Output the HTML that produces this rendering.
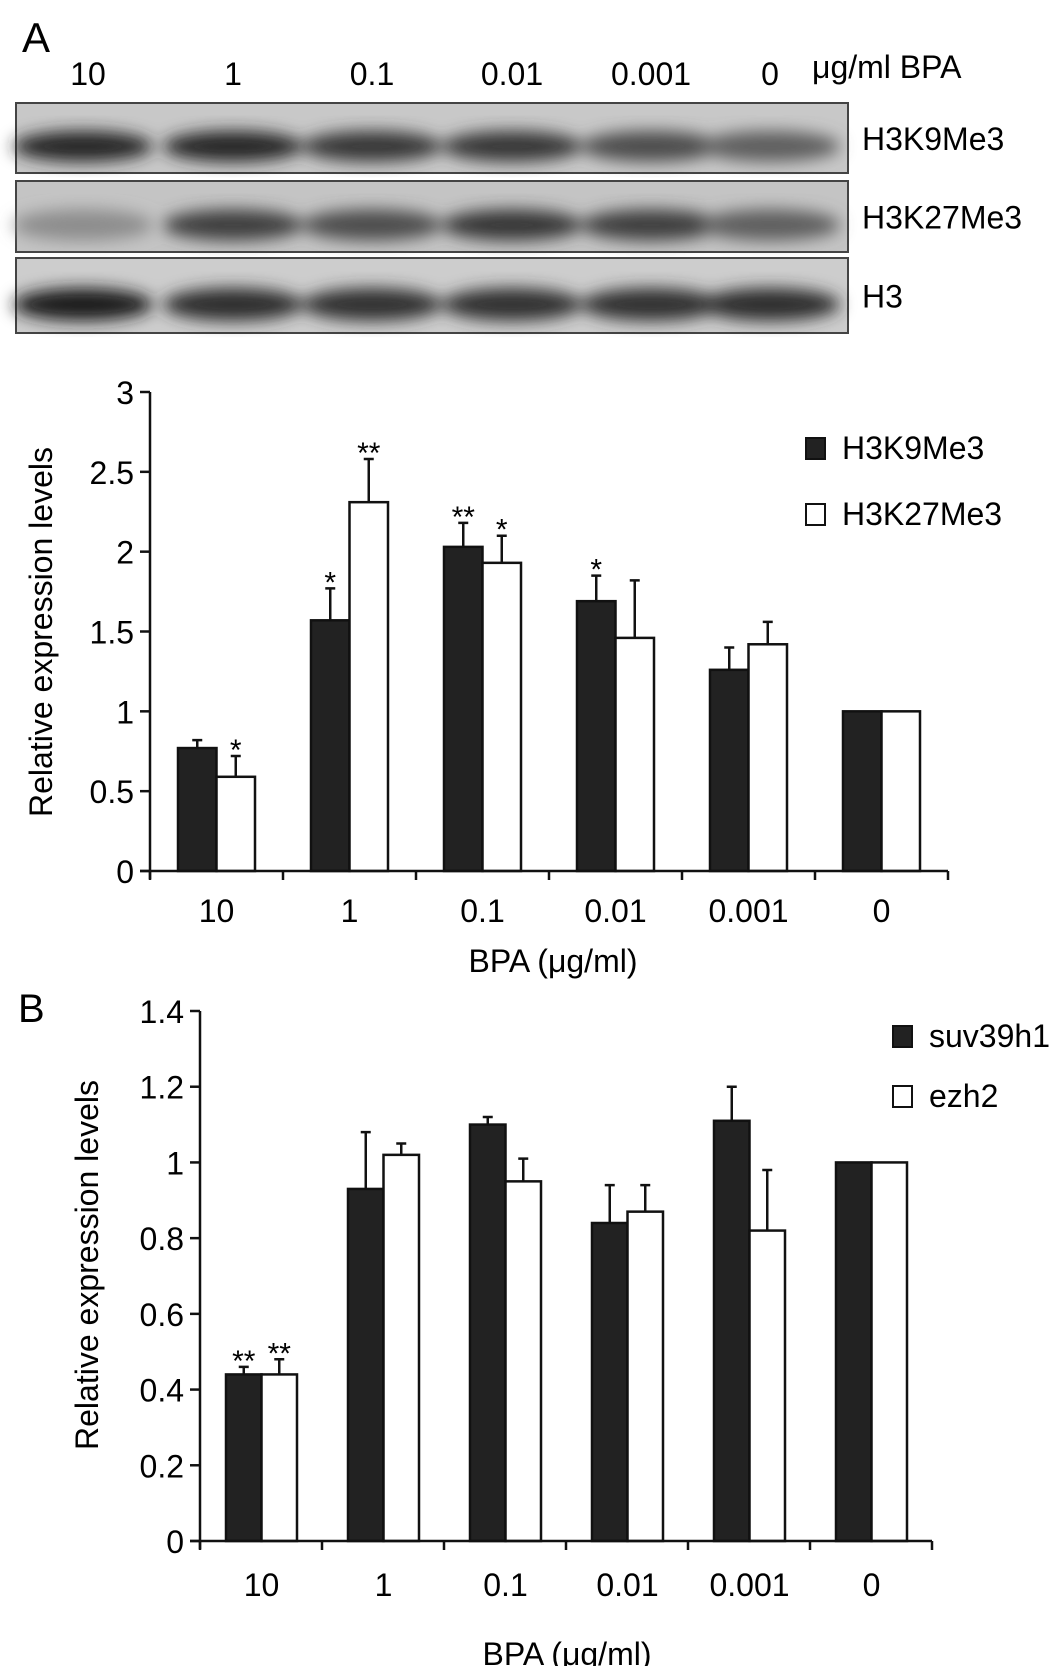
<!DOCTYPE html>
<html><head><meta charset="utf-8"><style>
body{margin:0;background:#fff;}
svg{display:block;font-family:"Liberation Sans",Arial,sans-serif;}
</style></head><body>
<svg id="fig" width="1063" height="1666" viewBox="0 0 1063 1666">
<defs><filter id="blur" x="-20%" y="-50%" width="140%" height="200%"><feGaussianBlur stdDeviation="8"/></filter></defs>
<g id="blot"></g>
<g id="chartA"></g>
<g id="chartB"></g>
</svg>
<script>
const NS='http://www.w3.org/2000/svg';
const categories=['10','1','0.1','0.01','0.001','0'];
const aTicks=['0','0.5','1','1.5','2','2.5','3'];
const aTickVals=[0,0.5,1,1.5,2,2.5,3];
const aSeries1=[0.77,1.57,2.03,1.69,1.26,1.0];
const aErr1=[0.05,0.2,0.15,0.16,0.14,0];
const aSeries2=[0.59,2.31,1.93,1.46,1.42,1.0];
const aErr2=[0.13,0.27,0.17,0.36,0.14,0];
const aStars1=['','*','**','*','',''];
const aStars2=['*','**','*','','',''];
const bTicks=['0','0.2','0.4','0.6','0.8','1','1.2','1.4'];
const bTickVals=[0,0.2,0.4,0.6,0.8,1,1.2,1.4];
const bSeries1=[0.44,0.93,1.10,0.84,1.11,1.0];
const bErr1=[0.02,0.15,0.02,0.1,0.09,0];
const bSeries2=[0.44,1.02,0.95,0.87,0.82,1.0];
const bErr2=[0.04,0.03,0.06,0.07,0.16,0];
const bStars1=['**','','','','',''];
const bStars2=['**','','','','',''];
const blotDark1=[0.95,0.95,0.85,0.85,0.72,0.62];
const blotDark2=[0.35,0.8,0.72,0.85,0.8,0.62];
const blotDark3=[1.0,0.9,0.88,0.88,0.88,0.9];

function el(tag,attrs,parent,text){const e=document.createElementNS(NS,tag);for(const k in attrs)e.setAttribute(k,attrs[k]);if(text!==undefined)e.textContent=text;parent.appendChild(e);return e;}

const blot=document.getElementById('blot');
let t=el('text',{x:22,y:52,'font-size':42},blot,'A');


const laneX=[88,233,372,512,651,770];
categories.forEach((c,i)=>{
  const l=el('text',{x:laneX[i],y:85,'font-size':32,'text-anchor':'middle'},blot,c);
  
  
});
t=el('text',{x:812,y:78,'font-size':32},blot,'μg/ml BPA');


const rows=[{y:103,h:70,name:'H3K9Me3',d:blotDark1,bg:'#c8c8c8'},{y:181,h:71,name:'H3K27Me3',d:blotDark2,bg:'#c4c4c4'},{y:258,h:75,name:'H3',d:blotDark3,bg:'#cdcdcd'}];
rows.forEach(r=>{
  const g=el('g',{},blot);
  
  
  el('rect',{x:16,y:r.y,width:832,height:r.h,fill:r.bg,stroke:'#444','stroke-width':2},g);
  const bg=el('g',{filter:'url(#blur)'},g);
  r.d.forEach((v,i)=>{
    const lum=Math.round(200-170*v);
    el('ellipse',{cx:laneX[i]+(i==0?-5:0),cy:r.y+r.h*0.62,rx:70,ry:r.h*0.22,fill:`rgb(${lum},${lum},${lum})`},bg);
  });
  const lab=el('text',{x:862,y:r.y+r.h/2+12,'font-size':32},g,r.name);
  
  
});

function chart(gid,o){
  const g=document.getElementById(gid);
  const y=v=>o.y0-(v/o.vmax)*(o.y0-o.ytop);
  const gx=i=>o.x0+i*o.gw;
  [[o.s1,o.e1,'#222',o.st1,0],[o.s2,o.e2,'#fff',o.st2,1]].forEach(([s,e,fill,st,k])=>{
    s.forEach((v,i)=>{
      const bx=gx(i)+o.off+k*o.bw;
      const top=y(v);
      const r=el('rect',{x:bx,y:top,width:o.bw,height:o.y0-top,fill:fill,stroke:'#111','stroke-width':2.5},g);
      
      
      const cx=bx+o.bw/2;
      if(e[i]>0){
        const ey=y(v+e[i]);
        const eb=el('path',{d:`M${cx} ${top} V${ey} M${cx-5} ${ey} H${cx+5}`,stroke:'#111','stroke-width':2.5,fill:'none'},g);
        
        
      }
      if(st[i]){
        const sy=y(v+e[i]);
        const sl=el('text',{x:cx,y:sy+4,'font-size':30,'text-anchor':'middle'},g,st[i]);
        
        
      }
    });
  });
  const xe=o.x0+6*o.gw;
  let a=el('path',{d:`M${o.x0} ${o.ytop} V${o.y0+8} M${o.x0-10} ${o.y0} H${xe}`,stroke:'#111','stroke-width':2.5,fill:'none'},g);
  
  
  o.tv.forEach((v,i)=>{
    el('path',{d:`M${o.x0-10} ${y(v)} H${o.x0}`,stroke:'#111','stroke-width':2.5},g);
    const tl=el('text',{x:o.x0-16,y:y(v)+12,'font-size':32,'text-anchor':'end'},g,o.tl[i]);
    
    
  });
  for(let i=0;i<=6;i++) el('path',{d:`M${gx(i)} ${o.y0} V${o.y0+9}`,stroke:'#111','stroke-width':2.5},g);
  categories.forEach((c,i)=>{
    const xl=el('text',{x:gx(i)+o.off+o.bw,y:o.xly,'font-size':32,'text-anchor':'middle'},g,c);
    
    
  });
  const xt=el('text',{x:o.xtx,y:o.xty,'font-size':32,'text-anchor':'middle'},g,'BPA (μg/ml)');
  
  
  const yt=el('text',{x:0,y:0,'font-size':32,'text-anchor':'middle',transform:`translate(${o.ytx},${o.yty}) rotate(-90)`},g,'Relative expression levels');
  
  
  o.leg.forEach((L,k)=>{
    const lg=el('g',{},g);
    
    
    el('rect',{x:o.lx,y:L,width:19,height:21,fill:k?'#fff':'#222',stroke:'#111','stroke-width':2},lg);
    el('text',{x:o.lx+36,y:L+21,'font-size':32},lg,o.lnames[k]);
  });
}
chart('chartA',{x0:150,y0:871,ytop:392,vmax:3,gw:133,off:28,bw:38.5,s1:aSeries1,e1:aErr1,s2:aSeries2,e2:aErr2,st1:aStars1,st2:aStars2,tv:aTickVals,tl:aTicks,xly:922,xtx:553,xty:972,ytx:52,yty:632,lx:806,leg:[438,504],names:['h3k9me3','h3k27me3'],lnames:['H3K9Me3','H3K27Me3']});
chart('chartB',{x0:200,y0:1541,ytop:1011,vmax:1.4,gw:122,off:26,bw:35.5,s1:bSeries1,e1:bErr1,s2:bSeries2,e2:bErr2,st1:bStars1,st2:bStars2,tv:bTickVals,tl:bTicks,xly:1596,xtx:567,xty:1665,ytx:98,yty:1265,lx:893,leg:[1026,1086],names:['suv39h1','ezh2'],lnames:['suv39h1','ezh2']});
let b=el('text',{x:18,y:1022,'font-size':40},document.getElementById('chartB'),'B');


</script>
</body></html>
